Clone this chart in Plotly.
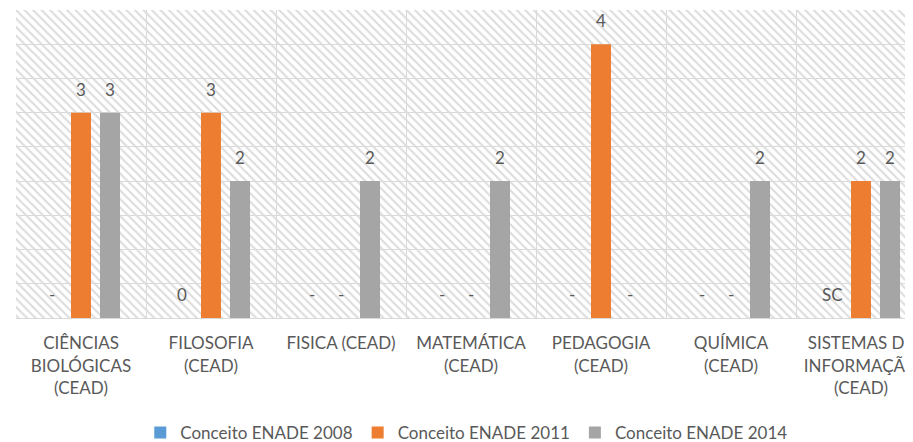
import plotly.graph_objects as go

categories = ["CIÊNCIAS<br>BIOLÓGICAS<br>(CEAD)", "FILOSOFIA<br>(CEAD)", "FISICA (CEAD)",
              "MATEMÁTICA<br>(CEAD)", "PEDAGOGIA<br>(CEAD)", "QUÍMICA<br>(CEAD)",
              "SISTEMAS DE<br>INFORMAÇÃO<br>(CEAD)"]
series_names = ["Conceito ENADE 2008", "Conceito ENADE 2011", "Conceito ENADE 2014"]
values_2008 = [0, 0, 0, 0, 0, 0, 0]
values_2011 = [3, 3, 0, 0, 4, 0, 2]
values_2014 = [3, 2, 2, 2, 0, 2, 2]
labels_2008 = ["-", "0", "-", "-", "-", "-", "SC"]
labels_2011 = ["3", "3", "-", "-", "4", "-", "2"]
labels_2014 = ["3", "2", "2", "2", "-", "2", "2"]
colors = ["#5B9BD5", "#ED7D31", "#A5A5A5"]
y_max = 4.5

FONT = "Lato"
TXT = "#595959"
n = len(categories)
slot = 29 / 130
bw = 20 / 130

fig = go.Figure()
# hatched background decoration
fig.add_trace(go.Bar(
    x=categories, y=[y_max] * n, width=1, showlegend=False, hoverinfo="skip",
    marker=dict(color="rgba(0,0,0,0)", line=dict(width=0),
                pattern=dict(shape="\\", size=6, solidity=0.35,
                             fgcolor="#DCDCDC", bgcolor="rgba(0,0,0,0)",
                             fillmode="replace")),
))

all_vals = [values_2008, values_2011, values_2014]
all_labels = [labels_2008, labels_2011, labels_2014]
annotations = []
for k, (name, vals, labs, col) in enumerate(zip(series_names, all_vals, all_labels, colors)):
    center = (k - 1) * slot
    fig.add_trace(go.Bar(
        x=categories, y=vals, name=name, width=bw, offset=center - bw / 2,
        marker=dict(color=col, line=dict(width=0)),
    ))
    for i, (v, t) in enumerate(zip(vals, labs)):
        annotations.append(dict(
            x=i + center, y=v, xref="x", yref="y", text=t, showarrow=False,
            yanchor="bottom", yshift=11,
            font=dict(family=FONT, size=17, color=TXT),
        ))

fig.update_layout(
    width=905, height=434,
    margin=dict(l=8, r=0, t=2, b=124, autoexpand=False),
    barmode="overlay",
    paper_bgcolor="white", plot_bgcolor="white",
    font=dict(family=FONT, size=17, color=TXT),
    annotations=annotations,
    legend=dict(orientation="h", x=0.502, xanchor="center", y=-0.373, yanchor="middle",
                font=dict(family=FONT, size=17, color=TXT), traceorder="normal"),
    xaxis=dict(
        type="category", range=[-0.5, n - 0.6], automargin=False,
        tickson="boundaries", showgrid=True, gridcolor="#D9D9D9", gridwidth=1,
        showline=True, linecolor="#D9D9D9", ticks="", ticklabelstandoff=10,
        ticklabeloverflow="allow",
        tickfont=dict(family=FONT, size=17, color=TXT),
    ),
    yaxis=dict(
        range=[0, y_max], dtick=0.5, showgrid=True, gridcolor="#D9D9D9", gridwidth=1,
        showticklabels=False, zeroline=False, showline=False, ticks="", automargin=False,
    ),
)

fig.write_html("out.html")
